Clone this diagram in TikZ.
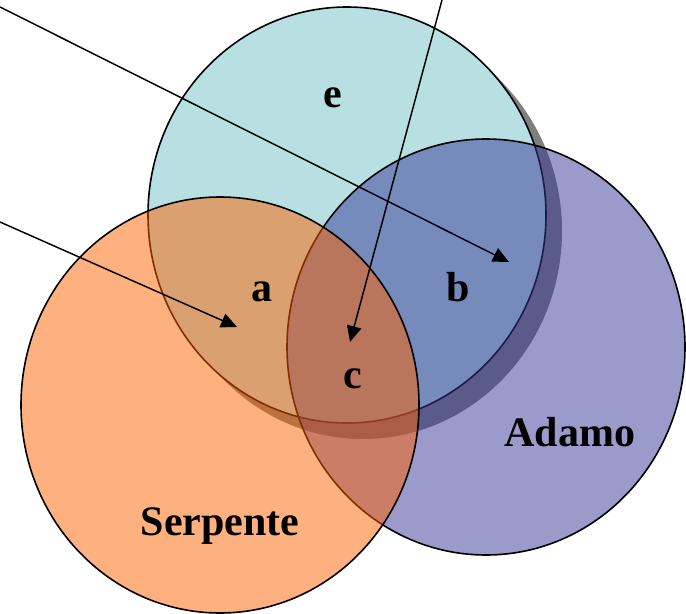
\documentclass[tikz,border=0pt]{standalone}
\usepackage{fontspec}
\setmainfont{Liberation Serif}
\usetikzlibrary{arrows.meta}

\definecolor{celeste}{RGB}{184,224,226}
\definecolor{viola}{RGB}{53,53,151}
\definecolor{arancio}{RGB}{255,97,0}
\definecolor{grigio}{RGB}{128,128,128}

\begin{document}
\begin{tikzpicture}[
  x=0.75pt, y=-0.75pt,
  insieme/.style   = {draw=black, line width=1.2pt, fill opacity=0.5},
  raggi/.style     = {x radius=149.25pt, y radius=156pt},
  etichetta/.style = {anchor=base, inner sep=0pt,
                      font=\fontsize{31.5}{36}\selectfont\bfseries},
  freccia/.style   = {-{Triangle[length=12pt, width=11pt]}, line width=1.1pt}
]
\useasboundingbox (0,0) rectangle (686,614);
% insiemi
\fill[grigio] (363,231) ellipse [raggi];
\draw[line width=1.2pt, fill=celeste] (347,215) ellipse [raggi];
\draw[insieme, fill=viola]   (486,347) ellipse [raggi];
\draw[insieme, fill=arancio] (220,405) ellipse [raggi];
% etichette
\node[etichetta] (e)        at (333,107) {e};
\node[etichetta] (a)        at (262,301) {a};
\node[etichetta] (b)        at (458,301) {b};
\node[etichetta] (c)        at (353,388) {c};
\node[etichetta] (adamo)    at (570,446) {Adamo};
\node[etichetta] (serpente) at (220,535) {Serpente};
% frecce
\coordinate (p1) at (0,7);   \coordinate (q1) at (509,262);
\coordinate (p2) at (0,222); \coordinate (q2) at (237,327);
\coordinate (p3) at (442,0); \coordinate (q3) at (350,342);
\draw[freccia] (p1) -- (q1);
\draw[freccia] (p2) -- (q2);
\draw[freccia] (p3) -- (q3);
\end{tikzpicture}
\end{document}
